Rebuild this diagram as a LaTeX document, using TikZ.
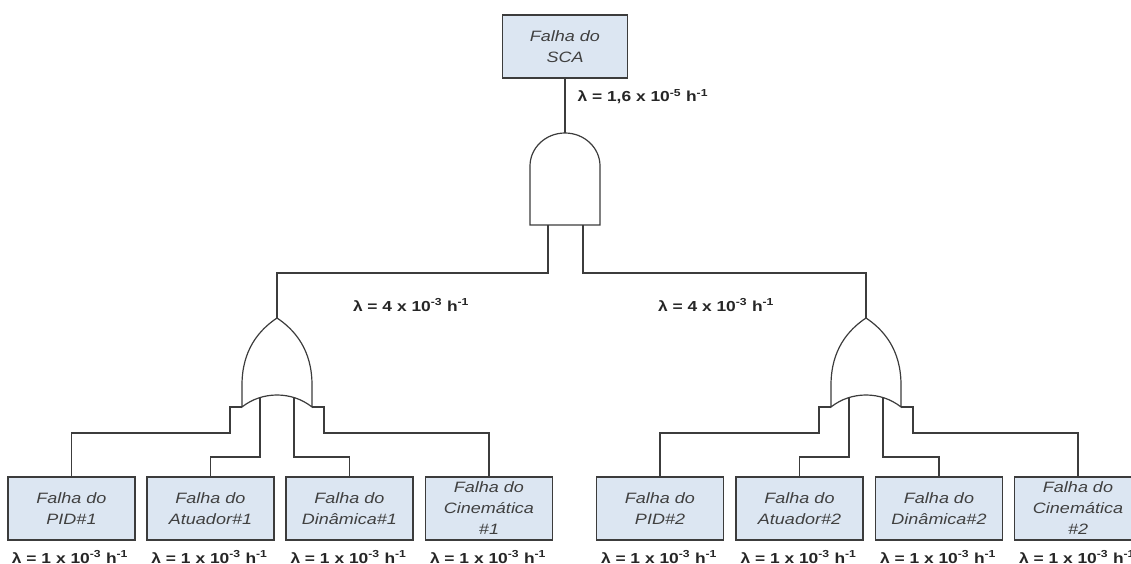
\documentclass[tikz,border=0pt]{standalone}
\usepackage{fontspec}
\setmainfont{Liberation Sans}[FakeStretch=1.2]
\definecolor{boxfill}{HTML}{DCE6F2}
\definecolor{edgegray}{HTML}{3C3C3C}
\definecolor{textgray}{HTML}{404040}
\begin{document}
\begin{tikzpicture}[x=1pt,y=-1pt,
	event/.style={draw=edgegray,line width=1.2pt,rectangle,fill=boxfill,minimum width=127pt,minimum height=63pt,inner sep=0pt,align=center,text=textgray,font=\fontsize{15}{21}\selectfont\itshape},
	rate/.style={font=\fontsize{14.5}{17}\selectfont\bfseries,text=black!85},
	wire/.style={draw=edgegray,line width=1.2pt}]
			\useasboundingbox (0,0) rectangle (1131,564);
			\node[event,minimum width=125pt] (sca) at (565,46.5) {Falha do\\SCA};
			\node[event] (pid1) at (71.5,508.5) {Falha do\\PID\#1};
			\node[event] (atuador1) at (210.5,508.5) {Falha do\\Atuador\#1};
			\node[event] (dinamica1) at (349.5,508.5) {Falha do\\Dinâmica\#1};
			\node[event] (cinematica1) at (489,508.5) {Falha do\\Cinemática\\\#1};
			\node[event] (pid2) at (660,508.5) {Falha do\\PID\#2};
			\node[event] (atuador2) at (799.5,508.5) {Falha do\\Atuador\#2};
			\node[event] (dinamica2) at (939,508.5) {Falha do\\Dinâmica\#2};
			\node[event] (cinematica2) at (1078,508.5) {Falha do\\Cinemática\\\#2};
			\draw[wire] (530,225) -- (530,166) arc[start angle=180,end angle=360,x radius=35,y radius=33] -- (600,225) -- cycle;
			\coordinate (and-out) at (565,133);
			\coordinate (and-in1) at (548,225);
			\coordinate (and-in2) at (583,225);
			\coordinate (and-s1) at (548,273);
			\coordinate (and-s2) at (583,273);
			\foreach \c/\g in {277/orA,866/orB}{
				\draw[wire] (\c-35,407) -- (\c-35,385) .. controls (\c-35,350) and (\c-18,330) .. (\c,318) .. controls (\c+18,330) and (\c+35,350) .. (\c+35,385) -- (\c+35,407) .. controls (\c+15,391) and (\c-15,391) .. cycle;
				\coordinate (\g-out) at (\c,318);
				\coordinate (\g-in1) at (\c-35,407);
				\coordinate (\g-in2) at (\c-17,397.5);
				\coordinate (\g-in3) at (\c+17,397.5);
				\coordinate (\g-in4) at (\c+35,407);
				\coordinate (\g-s1) at (\c-47,433);
				\coordinate (\g-s2) at (\c-17,457);
				\coordinate (\g-s3) at (\c+17,457);
				\coordinate (\g-s4) at (\c+47,433);
			}
			\draw[wire] (sca) -- (and-out);
			\draw[wire] (and-in1) -- (and-s1) -| (orA-out);
			\draw[wire] (and-in2) -- (and-s2) -| (orB-out);
			\draw[wire] (orA-in1) -| (orA-s1) -| (pid1.north);
			\draw[wire] (orA-in2) -- (orA-s2) -| (atuador1.north);
			\draw[wire] (orA-in3) -- (orA-s3) -| (dinamica1.north);
			\draw[wire] (orA-in4) -| (orA-s4) -| (cinematica1.north);
			\draw[wire] (orB-in1) -| (orB-s1) -| (pid2.north);
			\draw[wire] (orB-in2) -- (orB-s2) -| (atuador2.north);
			\draw[wire] (orB-in3) -- (orB-s3) -| (dinamica2.north);
			\draw[wire] (orB-in4) -| (orB-s4) -| (cinematica2.north);
			\node[rate,anchor=west] (rsca) at (574,97) {λ = 1,6 x 10\textsuperscript{-5} h\textsuperscript{-1}};
			\node[rate] (rorA) at (411,305) {λ = 4 x 10\textsuperscript{-3} h\textsuperscript{-1}};
			\node[rate] (rorB) at (716,305) {λ = 4 x 10\textsuperscript{-3} h\textsuperscript{-1}};
			\node[rate] (rpid1) at (70,557) {λ = 1 x 10\textsuperscript{-3} h\textsuperscript{-1}};
			\node[rate] (ratuador1) at (209.5,557) {λ = 1 x 10\textsuperscript{-3} h\textsuperscript{-1}};
			\node[rate] (rdinamica1) at (348.5,557) {λ = 1 x 10\textsuperscript{-3} h\textsuperscript{-1}};
			\node[rate] (rcinematica1) at (488,557) {λ = 1 x 10\textsuperscript{-3} h\textsuperscript{-1}};
			\node[rate] (rpid2) at (659,557) {λ = 1 x 10\textsuperscript{-3} h\textsuperscript{-1}};
			\node[rate] (ratuador2) at (798.5,557) {λ = 1 x 10\textsuperscript{-3} h\textsuperscript{-1}};
			\node[rate] (rdinamica2) at (938,557) {λ = 1 x 10\textsuperscript{-3} h\textsuperscript{-1}};
			\node[rate] (rcinematica2) at (1077,557) {λ = 1 x 10\textsuperscript{-3} h\textsuperscript{-1}};
		\end{tikzpicture}
\end{document}
